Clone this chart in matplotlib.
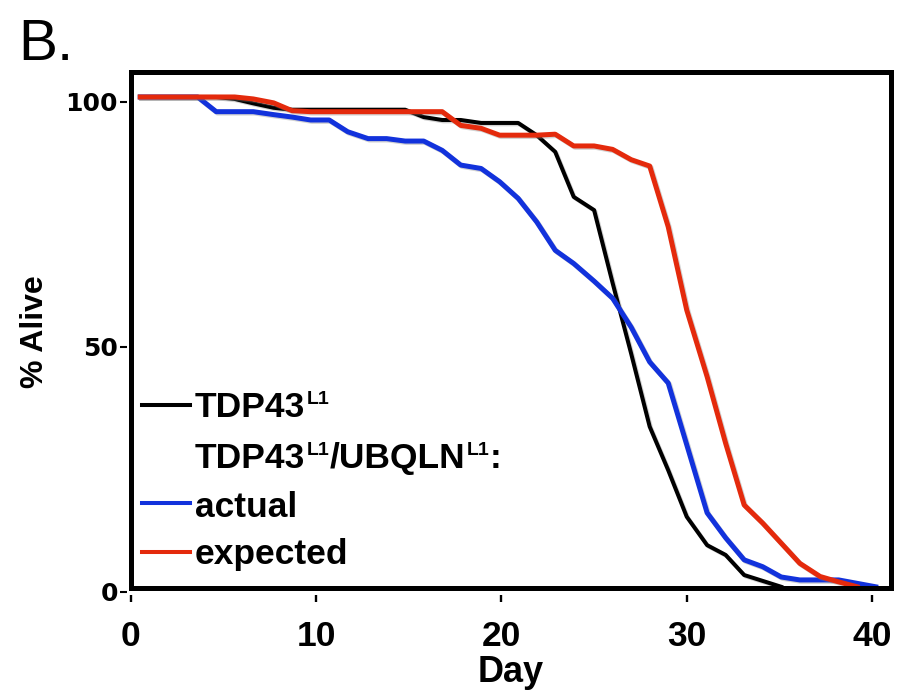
import matplotlib
matplotlib.use('Agg')
import matplotlib.pyplot as plt
import matplotlib.patheffects as pe
from matplotlib.patches import Rectangle

# days at which survival was scored (as placed on the original axis)
days = [0.5, 1.6, 2.6, 3.6, 4.6, 5.6, 6.6, 7.7, 8.7, 9.7,
        10.7, 11.7, 12.8, 13.8, 14.8, 15.8, 16.8, 17.8, 18.9, 19.9,
        20.9, 21.9, 22.9, 23.9, 25.0, 26.0, 27.0, 28.0, 29.0, 30.0,
        31.1, 32.1, 33.1, 34.1, 35.1, 36.1, 37.2, 38.2, 39.2, 40.2]

# % alive
tdp43 = [101, 101, 101, 101, 101, 100.6, 99.7, 98.8, 98.4, 98.4,
         98.4, 98.4, 98.4, 98.4, 98.4, 96.9, 96.3, 96.3, 95.7, 95.7,
         95.7, 93.2, 89.8, 80.6, 77.9, 63.0, 48.6, 33.7, 24.8, 15.3,
         9.5, 7.5, 3.4, 2.2, 1.0]

actual = [101, 101, 101, 101, 98.0, 98.0, 98.0, 97.4, 96.9, 96.3,
          96.3, 93.9, 92.5, 92.5, 92.0, 92.0, 90.1, 87.1, 86.4, 83.7,
          80.3, 75.5, 69.7, 67.0, 63.4, 59.9, 54.0, 46.9, 42.6, 30.0,
          16.1, 11.0, 6.5, 5.1, 3.0, 2.4, 2.4, 2.4, 1.7, 1.0]

expected = [101, 101, 101, 101, 101, 101, 100.6, 99.8, 98.2, 98.0,
            98.0, 98.0, 98.0, 98.0, 98.0, 98.0, 98.0, 95.2, 94.6, 93.2,
            93.2, 93.2, 93.4, 91.0, 91.0, 90.3, 88.2, 86.9, 74.5, 57.5,
            43.9, 30.3, 17.7, 14.0, 9.9, 5.8, 3.1, 2.0, 1.0]

x_ticks = [0, 10, 20, 30, 40]
y_ticks = [0, 50, 100]

BLUE = '#1232dc'
RED = '#e42a0c'

plt.rcParams['font.family'] = 'Liberation Sans'

fig = plt.figure(figsize=(9.23, 6.93), dpi=100)
ax = fig.add_axes([0.1419, 0.1462, 0.8229, 0.7492])

shadow = [pe.SimpleLineShadow(offset=(1.0, -1.0), shadow_color='0.5', alpha=0.35),
          pe.Normal()]

ax.plot(days[:len(tdp43)], tdp43, color='black', lw=2.9,
        solid_joinstyle='round', path_effects=shadow, zorder=3)
ax.plot(days[:len(actual)], actual, color=BLUE, lw=3.6,
        solid_joinstyle='round', path_effects=shadow, zorder=4)
ax.plot(days[:len(expected)], expected, color=RED, lw=3.6,
        solid_joinstyle='round', path_effects=shadow, zorder=5)

ax.set_xlim(0, 41)
ax.set_ylim(0, 106)

# box frame drawn by hand, ticks sit a little outside it
for s in ax.spines.values():
    s.set_visible(False)
ax.spines['left'].set_position(('outward', 3.1))
ax.spines['bottom'].set_position(('outward', 2.4))
ax.add_patch(Rectangle((0, 0.007), 1, 0.993, transform=ax.transAxes,
                       fill=False, ec='black', lw=3.6, joinstyle='miter',
                       clip_on=False, zorder=6))

ax.set_xticks(x_ticks)
ax.set_yticks(y_ticks)
ax.tick_params(axis='x', direction='out', length=4.8, width=1.7, pad=13,
               labelsize=25.5)
ax.tick_params(axis='y', direction='out', length=4.8, width=1.5, pad=1.5,
               labelsize=18)
for lab in ax.get_xticklabels():
    lab.set_fontweight('bold')
for lab in ax.get_yticklabels():
    lab.set_fontfamily('DejaVu Sans')
    lab.set_fontweight('bold')

ax.set_xlabel('Day', fontsize=26, fontweight='bold')
ax.xaxis.set_label_coords(0.5, -0.1215)
ax.set_ylabel('% Alive', fontsize=23, fontweight='bold')
ax.yaxis.set_label_coords(-0.1066, 0.5)


def rich_label(x, y, parts, size=25.5, sup_size=14):
    """Write text with superscripts; parts is a list of (text, is_sup)."""
    base = ax.text(x, y, parts[0][0], transform=ax.transAxes, fontsize=size,
                   fontweight='bold', ha='left', va='baseline')
    prev = base
    for txt, sup in parts[1:]:
        if sup:
            prev = ax.annotate(txt, xy=(1, 1), xycoords=(prev, base),
                               xytext=(1, 0), textcoords='offset points',
                               fontsize=sup_size, fontweight='bold',
                               ha='left', va='top')
        else:
            prev = ax.annotate(txt, xy=(1, 0), xycoords=(prev, base),
                               xytext=(0, 0), textcoords='offset points',
                               fontsize=size, fontweight='bold',
                               ha='left', va='bottom')


# hand-made legend
lx = [0.0141, 0.0777]
tx = 0.0843
ax.plot(lx, [0.3596, 0.3596], transform=ax.transAxes, color='black', lw=2.9)
ax.plot(lx, [0.1703, 0.1703], transform=ax.transAxes, color=BLUE, lw=2.9)
ax.plot(lx, [0.0770, 0.0770], transform=ax.transAxes, color=RED, lw=2.9)
rich_label(tx, 0.3371, [('TDP43', False), ('L1', True)])
rich_label(tx, 0.2377, [('TDP43', False), ('L1', True), ('/UBQLN', False),
                        ('L1', True), (':', False)])
rich_label(tx, 0.1444, [('actual', False)])
rich_label(tx, 0.0533, [('expected', False)])

fig.text(0.0195, 0.9134, 'B.', fontsize=42, va='baseline')

fig.savefig('out.png', dpi=100)
